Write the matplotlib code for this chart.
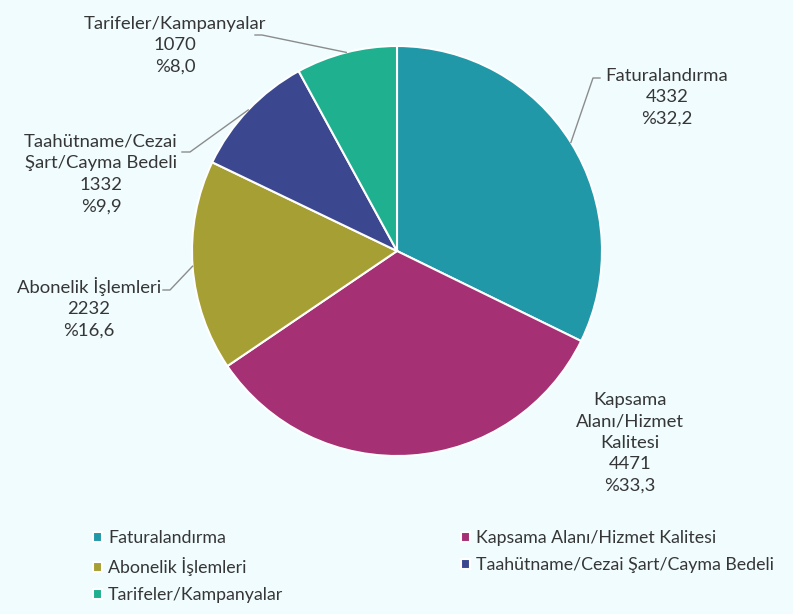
"""Şikayet konuları dağılımı - pasta grafiği"""
import numpy as np
import matplotlib.pyplot as plt

# veri
categories = ["Faturalandırma", "Kapsama Alanı/Hizmet Kalitesi", "Abonelik İşlemleri",
              "Taahütname/Cezai Şart/Cayma Bedeli", "Tarifeler/Kampanyalar"]
label_names = ["Faturalandırma", "Kapsama\nAlanı/Hizmet\nKalitesi", "Abonelik İşlemleri",
               "Taahütname/Cezai\nŞart/Cayma Bedeli", "Tarifeler/Kampanyalar"]
counts = [4332, 4471, 2232, 1332, 1070]
colors = ["#2198A8", "#A53073", "#A6A034", "#3B488F", "#1EB08F"]

# layout (pixels of the 793x614 canvas)
W, H = 793, 614
CX, CY, R = 397, 251, 205
label_px = [(667, 97), (630, 443), (89, 308), (101, 174), (175, 45)]
elbow_px = [[(593, 78), (600, 78)], None, [(170, 290), (163, 290)],
            [(190, 152), (182, 152)], [(262, 35), (255, 35)]]

BG = "#F0FCFD"
TXT = "#363636"
FS = 13.3
plt.rcParams['font.family'] = ['Lato', 'DejaVu Sans']


def px2data(p):
    return (p[0] - CX) / R, (CY - p[1]) / R


fig = plt.figure(figsize=(W / 100, H / 100), dpi=100, facecolor=BG)
ax = fig.add_axes([(CX - R) / W, (H - CY - R) / H, 2 * R / W, 2 * R / H])
ax.set_facecolor(BG)

wedges, _ = ax.pie(counts, colors=colors, startangle=90, counterclock=False, radius=1,
                   wedgeprops=dict(edgecolor="white", linewidth=1.5))
ax.set_xlim(-1, 1)
ax.set_ylim(-1, 1)
ax.axis("off")

total = sum(counts)
for i, w in enumerate(wedges):
    pct = counts[i] / total * 100
    txt = f"{label_names[i]}\n{counts[i]}\n%{pct:.1f}".replace(".", ",")
    lx, ly = px2data(label_px[i])
    ax.text(lx, ly, txt, ha="center", va="center", fontsize=FS, color=TXT,
            linespacing=1.42, clip_on=False)
    if elbow_px[i] is not None:
        mid = np.deg2rad((w.theta1 + w.theta2) / 2)
        pts = [(np.cos(mid), np.sin(mid))] + [px2data(p) for p in elbow_px[i]]
        xs, ys = zip(*pts)
        ax.plot(xs, ys, color="#8C8C8C", lw=1, clip_on=False)

order = [0, 2, 4, 1, 3]
fig.legend([wedges[i] for i in order], [categories[i] for i in order], ncol=2,
           loc="upper left", bbox_to_anchor=(93 / W, 1 - 530 / H), frameon=False,
           fontsize=12.8, labelcolor=TXT, handlelength=0.5, handleheight=0.5,
           handletextpad=0.35, labelspacing=0.62, columnspacing=10.0, borderpad=0,
           borderaxespad=0)

fig.savefig("out.png", dpi=100, facecolor=BG)
